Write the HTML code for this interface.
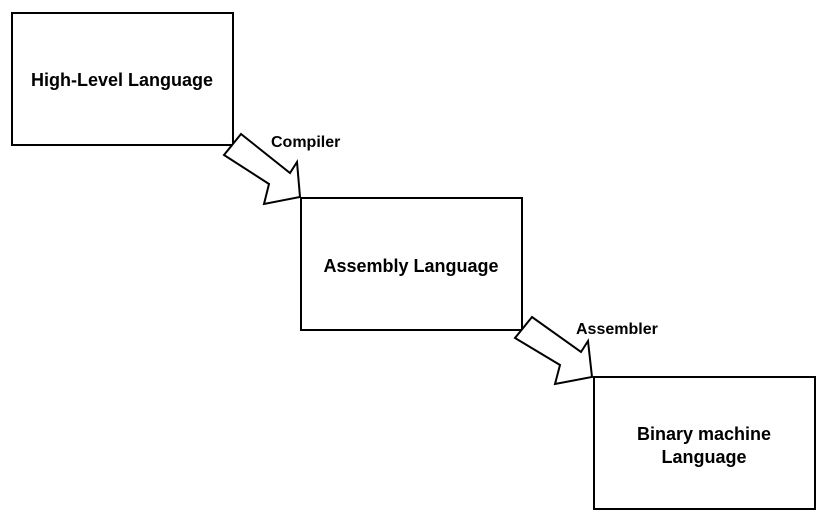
<html><body style="margin:0;background:#fff">
<svg width="823" height="515" xmlns="http://www.w3.org/2000/svg" style="font-family:'Liberation Sans',sans-serif;font-weight:bold">
<rect width="823" height="515" fill="#fff"/>
<g fill="#fff" stroke="#000" stroke-width="2">
<rect x="12" y="13" width="221" height="132"/>
<rect x="301" y="198" width="221" height="132"/>
<rect x="594" y="377" width="221" height="132"/>
<polygon points="241,134 224,155 269,184 264,204 300,197 297,162 290,173"/>
<polygon points="532,317 515,338 560,365 555,384 592,377 588,341 581,352"/>
</g>
<g font-size="18" text-anchor="middle" fill="#000">
<text x="122" y="86">High-Level Language</text>
<text x="411" y="272">Assembly Language</text>
<text x="704" y="440">Binary machine</text>
<text x="704" y="463">Language</text>
</g>
<g font-size="16" fill="#000">
<text x="271" y="147">Compiler</text>
<text x="576" y="334">Assembler</text>
</g>
</svg>
</body></html>
